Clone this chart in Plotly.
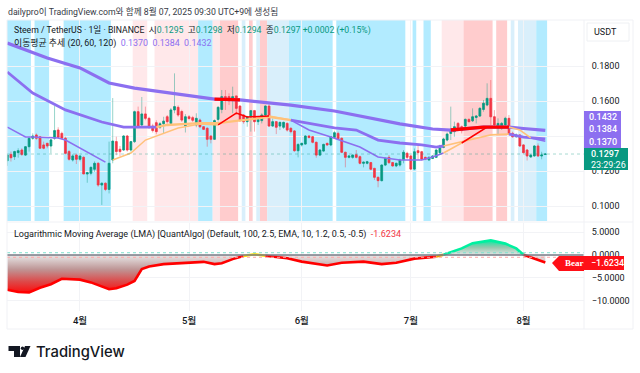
import pandas as pd
import plotly.graph_objects as go

# ---------- data ----------
START_DATE = "2025-03-12"
OPEN = [.1259,.1295,.1282,.1305,.1320,.1291,.1339,.1387,.1406,.1396,
 .1349,.1358,.1343,.1387,.1434,.1415,.1387,.1311,.1263,.1291,
 .1267,.1278,.1183,.1187,.1210,.1244,.1120,.1130,.1095,.1263,
 .1368,.1324,.1320,.1400,.1320,.1368,.1539,.1463,.1526,.1501,
 .1457,.1476,.1450,.1470,.1510,.1472,.1549,.1564,.1540,.1457,
 .1510,.1505,.1463,.1491,.1453,.1444,.1400,.1381,.1495,.1552,
 .1625,.1625,.1606,.1629,.1571,.1520,.1482,.1510,.1545,.1482,
 .1488,.1520,.1571,.1457,.1482,.1457,.1450,.1472,.1444,.1429,
 .1316,.1349,.1354,.1400,.1396,.1364,.1291,.1314,.1358,.1349,
 .1392,.1415,.1387,.1307,.1278,.1278,.1293,.1282,.1244,.1244,
 .1248,.1215,.1164,.1145,.1234,.1278,.1248,.1229,.1234,.1263,
 .1301,.1286,.1211,.1316,.1310,.1278,.1263,.1272,.1278,.1305,
 .1335,.1377,.1415,.1425,.1472,.1453,.1457,.1495,.1487,.1506,
 .1514,.1552,.1577,.1615,.1510,.1444,.1444,.1463,.1501,.1415,
 .1396,.1406,.1349,.1320,.1280,.1286,.1343,.1286,.1295]
HIGH = [.1301,.1311,.1316,.1330,.1330,.1343,.1396,.1415,.1415,.1400,
 .1368,.1362,.1381,.1571,.1450,.1425,.1396,.1320,.1296,.1300,
 .1290,.1285,.1195,.1225,.1255,.1250,.1135,.1135,.1368,.1617,
 .1396,.1343,.1405,.1406,.1372,.1545,.1568,.1623,.1568,.1510,
 .1470,.1490,.1480,.1510,.1520,.1560,.1758,.1575,.1550,.1525,
 .1520,.1515,.1530,.1500,.1457,.1450,.1402,.1495,.1570,.1663,
 .1663,.1644,.1682,.1629,.1575,.1525,.1515,.1549,.1549,.1500,
 .1530,.1575,.1590,.1500,.1485,.1482,.1482,.1478,.1450,.1434,
 .1358,.1362,.1404,.1405,.1400,.1368,.1325,.1356,.1362,.1400,
 .1430,.1425,.1392,.1310,.1290,.1295,.1320,.1288,.1254,.1258,
 .1252,.1218,.1168,.1238,.1278,.1291,.1252,.1248,.1270,.1320,
 .1310,.1290,.1329,.1348,.1315,.1282,.1285,.1290,.1325,.1350,
 .1390,.1420,.1568,.1482,.1480,.1460,.1500,.1500,.1558,.1520,
 .1565,.1606,.1701,.1720,.1548,.1501,.1480,.1510,.1520,.1425,
 .1415,.1410,.1353,.1325,.1296,.1348,.1358,.1310,.1298]
LOW = [.1229,.1254,.1263,.1276,.1286,.1286,.1311,.1378,.1378,.1330,
 .1324,.1330,.1301,.1378,.1385,.1380,.1295,.1259,.1254,.1240,
 .1255,.1183,.1133,.1175,.1195,.1110,.1006,.1085,.1072,.1244,
 .1290,.1285,.1315,.1311,.1311,.1360,.1445,.1450,.1490,.1440,
 .1420,.1410,.1440,.1415,.1470,.1460,.1530,.1510,.1480,.1420,
 .1490,.1480,.1450,.1445,.1434,.1339,.1358,.1378,.1482,.1530,
 .1549,.1577,.1530,.1520,.1480,.1470,.1453,.1425,.1425,.1463,
 .1472,.1510,.1453,.1453,.1411,.1434,.1440,.1425,.1415,.1310,
 .1278,.1340,.1350,.1385,.1358,.1276,.1285,.1310,.1344,.1342,
 .1385,.1380,.1302,.1221,.1272,.1270,.1272,.1238,.1221,.1238,
 .1205,.1149,.1107,.1140,.1228,.1240,.1225,.1222,.1225,.1244,
 .1266,.1205,.1205,.1263,.1260,.1262,.1258,.1268,.1274,.1300,
 .1330,.1370,.1377,.1396,.1428,.1415,.1450,.1478,.1480,.1472,
 .1510,.1539,.1570,.1463,.1458,.1406,.1435,.1455,.1405,.1390,
 .1390,.1338,.1300,.1260,.1276,.1282,.1280,.1267,.1294]
CLOSE = [.1291,.1276,.1311,.1316,.1295,.1339,.1387,.1400,.1387,.1330,
 .1330,.1343,.1378,.1431,.1392,.1387,.1301,.1267,.1286,.1267,
 .1286,.1183,.1190,.1221,.1244,.1120,.1130,.1095,.1244,.1371,
 .1311,.1311,.1400,.1320,.1368,.1539,.1457,.1526,.1501,.1453,
 .1431,.1425,.1470,.1485,.1482,.1549,.1568,.1520,.1491,.1510,
 .1500,.1490,.1501,.1453,.1438,.1381,.1381,.1488,.1564,.1625,
 .1606,.1602,.1625,.1558,.1488,.1482,.1510,.1545,.1482,.1495,
 .1520,.1571,.1457,.1482,.1450,.1478,.1478,.1434,.1425,.1316,
 .1352,.1358,.1400,.1392,.1364,.1291,.1320,.1352,.1349,.1396,
 .1419,.1384,.1307,.1278,.1286,.1291,.1278,.1244,.1250,.1253,
 .1210,.1164,.1145,.1234,.1272,.1248,.1229,.1244,.1263,.1307,
 .1278,.1211,.1310,.1305,.1267,.1267,.1278,.1286,.1320,.1343,
 .1383,.1411,.1438,.1453,.1434,.1431,.1495,.1482,.1510,.1514,
 .1558,.1587,.1615,.1510,.1463,.1472,.1472,.1501,.1411,.1396,
 .1406,.1343,.1305,.1286,.1291,.1343,.1286,.1291,.1297]

MA120_IDX = [0,11,20,28,35,57,64,78,90,102,108,117,122,131,138,142,148]
MA120_VAL = [.1931,.1846,.1789,.1703,.1674,.1611,.1606,.1577,.1543,.1491,.1469,.1440,.1434,.1451,.1451,.1443,.1432]
MA60_IDX = [0,7,16,26,32,41,44,53,58,63,72,78,83,90,96,102,108,114,118,120,127,133,138,142,148]
MA60_VAL = [.1766,.1646,.1549,.1480,.1451,.1451,.1463,.1474,.1474,.1486,.1509,.1491,.1474,.1446,.1434,.1377,.1360,.1349,.1337,.1343,.1377,.1406,.1411,.1394,.1384]
MA20_IDX = [0,5,7,14,16,22,27,29,34,38,47,53,57,58,63,66,72,78,83,89,97,102,108,114,117,120,125,132,138,141,144,148]
MA20_VAL = [.1451,.1394,.1394,.1389,.1377,.1309,.1251,.1263,.1303,.1377,.1446,.1469,.1463,.1463,.1531,.1509,.1514,.1491,.1434,.1394,.1337,.1280,.1263,.1263,.1280,.1303,.1360,.1451,.1451,.1434,.1389,.1370]

LMA_IDX = [0,3,6,9,12,15,20,23,28,30,33,35,37,39,43,48,54,57,59,62,65,68,71,77,81,86,88,92,98,103,107,112,118,120,125,128,133,137,140,142,145,148]
LMA_VAL = [-7.6,-8.1,-8.2,-7.2,-6.4,-5.2,-5.4,-6.0,-7.5,-7.3,-6.5,-5.7,-3.1,-2.5,-2.0,-1.7,-1.5,-2.0,-1.8,-0.9,-0.2,0.15,-0.15,-0.7,-1.45,-2.0,-2.3,-1.7,-1.45,-2.0,-1.7,-0.8,-0.35,0.07,1.45,2.6,3.2,2.5,1.45,0.07,-0.75,-1.6234]

# band state runs: (state, number of days)
BAND_RUNS = [("B",7),("W",1),("B",4),("W",4),("B",13),("W",6),("P",4),("W",2),("P",12),("B",4),
 ("P",2),("R",5),("W",1),("L",1),("W",1),("R",1),("W",1),("L",1),("R",2),("L",6),("B",12),("W",1),
 ("B",19),("W",2),("B",1),("W",2),("B",2),("W",3),("P",6),("R",8),("W",1),("R",3),("W",1),("L",1),
 ("W",1),("L",5),("B",3)]
BAND_COLORS = {"B":"#b2ebff","P":"#ffe8ea","R":"#ffcccd","L":"#d9effb"}

PRICE_TICKS = [0.10,0.12,0.14,0.16,0.18]
PRICE_LABELS = ["0.1000","0.1200","","0.1600","0.1800"]
LMA_TICKS = [-10,-5,0,5]
MONTH_TICKS = ["2025-04-01","2025-05-01","2025-06-01","2025-07-01","2025-08-01"]
MONTH_LABELS = ["4월","5월","6월","7월","8월"]

PURPLE="#8c6ff0"; ORANGE="#ffc27a"; RED="#ff0000"; TEAL="#089981"; CRED="#f23645"
FONT='Roboto, "Noto Sans CJK KR", sans-serif'
TXT="#131722"

W,H=640,373
ML,MR,MT,MB=7,56,20,62
PW,PH=W-ML-MR,H-MT-MB
def fx(x): return (x-ML)/PW
def fy(y): return (H-MB-y)/PH

dates = pd.date_range(START_DATE, periods=len(OPEN), freq="D")
half = pd.Timedelta(hours=12)

fig = go.Figure()

# candles: wick layer + body layer
fig.add_trace(go.Candlestick(x=dates, open=OPEN, high=HIGH, low=LOW, close=CLOSE, yaxis="y",
    increasing=dict(line=dict(color="rgba(8,153,129,0.42)",width=1),fillcolor="rgba(0,0,0,0)"),
    decreasing=dict(line=dict(color="rgba(242,54,69,0.42)",width=1),fillcolor="rgba(0,0,0,0)"),
    whiskerwidth=0, showlegend=False, hoverinfo="skip"))
body_hi=[max(o,c) for o,c in zip(OPEN,CLOSE)]
body_lo=[min(o,c) for o,c in zip(OPEN,CLOSE)]
fig.add_trace(go.Candlestick(x=dates, open=OPEN, high=body_hi, low=body_lo, close=CLOSE, yaxis="y",
    increasing=dict(line=dict(color=TEAL,width=0.6),fillcolor=TEAL),
    decreasing=dict(line=dict(color=CRED,width=0.6),fillcolor=CRED),
    whiskerwidth=0, showlegend=False, hoverinfo="skip"))

def seg(idx,val,a,b,color,width,yaxis="y"):
    xs=[dates[i] for i in idx if a<=i<=b]
    ys=[v for i,v in zip(idx,val) if a<=i<=b]
    fig.add_trace(go.Scatter(x=xs,y=ys,mode="lines",yaxis=yaxis,line=dict(color=color,width=width),
                             showlegend=False,hoverinfo="skip"))

seg(MA120_IDX,MA120_VAL,0,148,PURPLE,3.2)
seg(MA120_IDX,MA120_VAL,57,64,RED,3.2)
seg(MA120_IDX,MA120_VAL,122,138,RED,3.4)
seg(MA60_IDX,MA60_VAL,0,41,PURPLE,2.8)
seg(MA60_IDX,MA60_VAL,41,78,ORANGE,2.3)
seg(MA60_IDX,MA60_VAL,78,120,PURPLE,2.8)
seg(MA60_IDX,MA60_VAL,120,138,ORANGE,1.7)
seg(MA60_IDX,MA60_VAL,138,148,PURPLE,2.8)
seg(MA20_IDX,MA20_VAL,0,27,PURPLE,1.6)
seg(MA20_IDX,MA20_VAL,29,58,ORANGE,1.5)
seg(MA20_IDX,MA20_VAL,58,72,RED,1.5)
seg(MA20_IDX,MA20_VAL,72,78,ORANGE,1.5)
seg(MA20_IDX,MA20_VAL,78,120,PURPLE,1.6)
seg(MA20_IDX,MA20_VAL,120,125,ORANGE,1.5)
seg(MA20_IDX,MA20_VAL,125,138,RED,1.5)
seg(MA20_IDX,MA20_VAL,138,144,ORANGE,1.5)
seg(MA20_IDX,MA20_VAL,144,148,PURPLE,1.6)

# lower pane
red_grad=dict(type="vertical",start=-8.2,stop=0,
              colorscale=[[0,"rgb(250,15,15)"],[0.3,"rgb(220,75,75)"],[0.62,"rgb(190,150,150)"],[1,"rgb(232,232,232)"]])
green_grad=dict(type="vertical",start=0,stop=3.3,
              colorscale=[[0,"rgb(228,228,228)"],[0.5,"rgb(150,200,175)"],[1,"rgb(0,235,160)"]])
def lma(a,b,color,grad):
    xs=[dates[i] for i in LMA_IDX if a<=i<=b]
    ys=[v for i,v in zip(LMA_IDX,LMA_VAL) if a<=i<=b]
    fig.add_trace(go.Scatter(x=xs,y=ys,mode="lines",yaxis="y2",line=dict(color=color,width=2.6),
        fill="tozeroy",fillgradient=grad,showlegend=False,hoverinfo="skip"))
lma(0,65,RED,red_grad)
lma(65,71,"#ffe000",red_grad)
lma(71,118,RED,red_grad)
lma(118,120,"#f0a000",red_grad)
lma(120,142,"#00f0a0",green_grad)
lma(142,148,RED,red_grad)

shapes=[]
# regime bands
pos=0
for state,n in BAND_RUNS:
    if state!="W":
        shapes.append(dict(type="rect",xref="x",yref="y domain",x0=dates[pos]-half,x1=dates[pos+n-1]+half,
                           y0=0,y1=1,fillcolor=BAND_COLORS[state],line_width=0,layer="below"))
    pos+=n
# last price line
shapes.append(dict(type="line",xref="paper",yref="y",x0=0,x1=1,y0=CLOSE[-1],y1=CLOSE[-1],
                   line=dict(color="rgba(8,153,129,0.35)",width=1,dash="dot"),layer="above"))
# indicator reference lines
shapes.append(dict(type="line",xref="paper",yref="y2",x0=0,x1=1,y0=0.5,y1=0.5,line=dict(color="#7fe0cf",width=1,dash="dot"),layer="above"))
shapes.append(dict(type="line",xref="paper",yref="y2",x0=0,x1=1,y0=-0.5,y1=-0.5,line=dict(color="#ffa8a8",width=1,dash="dot"),layer="above"))
shapes.append(dict(type="line",xref="paper",yref="y2",x0=0,x1=1,y0=0,y1=0,line=dict(color="#787b86",width=1.6),layer="above"))

def prect(x0,y0,x1,y1,fill,line=None,layer="above"):
    return dict(type="rect",xref="paper",yref="paper",x0=fx(x0),x1=fx(x1),y0=fy(y0),y1=fy(y1),
                fillcolor=fill,line=dict(color=line or fill,width=1 if line else 0),layer=layer)
def ppath(pts,fill):
    d="M "+" L ".join(f"{fx(x):.5f},{fy(y):.5f}" for x,y in pts)+" Z"
    return dict(type="path",xref="paper",yref="paper",path=d,fillcolor=fill,line_width=0,layer="above")

# frame
FR="#f0f1f5"
shapes.append(prect(7,20,633,329,"rgba(0,0,0,0)",FR))
shapes.append(dict(type="line",xref="paper",yref="paper",x0=fx(584),x1=fx(584),y0=fy(20),y1=fy(329),line=dict(color=FR,width=1),layer="above"))
shapes.append(dict(type="line",xref="paper",yref="paper",x0=fx(7),x1=fx(633),y0=fy(222),y1=fy(222),line=dict(color=FR,width=1),layer="above"))
# USDT button
shapes.append(prect(587,23,629,41,"#ffffff","#eef0f3"))
# price badges
shapes.append(prect(584,111,621,148,PURPLE))
shapes.append(prect(584,148,628,170,TEAL))
# Bear flag + value badge
shapes.append(ppath([(552,263),(559,256),(584,256),(584,271),(559,271)],"#ff0f17"))
shapes.append(prect(584,256,624,270,"#ff0f17"))
# logo
shapes.append(ppath([(8.5,346),(20,346),(20,357),(14,357),(14,351),(8.5,351)],TXT))
shapes.append(dict(type="circle",xref="paper",yref="paper",x0=fx(20.8),x1=fx(24.2),y0=fy(346.5),y1=fy(350),fillcolor=TXT,line_width=0,layer="above"))
shapes.append(ppath([(25,346),(30.5,346),(25.5,357),(20,357)],TXT))

def ann(x,y,text,size=9.5,color=TXT,anchor="left",family=FONT,weight=None):
    f=dict(family=family,size=size,color=color)
    if weight: f["weight"]=weight
    return dict(xref="paper",yref="paper",x=fx(x),y=fy(y),text=text,showarrow=False,xanchor=anchor,yanchor="middle",
                font=f,borderpad=0,align="left")
def sp(c,t): return f'<span style="color:{c}">{t}</span>'
G="#089981"
anns=[
 ann(7,11,"dailypro이 TradingView.com와 함께 8월 07, 2025 09:30 UTC+9에 생성됨",size=8.7,color="#363a45"),
 ann(13,31,"Steem / TetherUS · 1일 · BINANCE  "+"시"+sp(G,"0.1295")+"  고"+sp(G,"0.1298")+"  저"+sp(G,"0.1294")+"  종"+sp(G,"0.1297")+" "+sp(G,"+0.0002 (+0.15%)"),size=8.7),
 ann(13,43.5,"이동평균 추세 (20, 60, 120)  "+sp(PURPLE,"0.1370")+"  "+sp(PURPLE,"0.1384")+"  "+sp(PURPLE,"0.1432"),size=8.9),
 ann(13,234,"Logarithmic Moving Average (LMA) [QuantAlgo] (Default, 100, 2.5, EMA, 10, 1.2, 0.5, -0.5)  "+sp("#f23645","-1.6234"),size=9),
 ann(593,32,"USDT",size=9,color=TXT),
 ann(603,117,"0.1432",size=9,color="#ffffff",anchor="center",weight=500),
 ann(603,129,"0.1384",size=9,color="#ffffff",anchor="center",weight=500),
 ann(603,141.5,"0.1370",size=9,color="#ffffff",anchor="center",weight=500),
 ann(590,154,"0.1297",size=9,color="#ffffff",weight=500),
 ann(590,165,"23:29:26",size=9,color="#ffffff"),
 ann(564,263,"Bear",size=9,color="#ffffff",family='"Liberation Serif", serif',weight=700),
 ann(590,263,"−1.6234",size=9,color="#ffffff",weight=500),
 ann(35,351.5,"TradingView",size=14.8,color=TXT,family='Inter, Roboto, sans-serif',weight=500),
]

GRID="#f2f3f6"
fig.update_layout(
    width=W,height=H,margin=dict(l=ML,r=MR,t=MT,b=MB,pad=0),
    paper_bgcolor="#ffffff",plot_bgcolor="#ffffff",font=dict(family=FONT,color=TXT,size=10),showlegend=False,
    shapes=shapes,annotations=anns,
    xaxis=dict(type="date",domain=[0,1],anchor="y2",range=["2025-03-11 22:05","2025-08-17 15:36"],
               rangeslider=dict(visible=False),tickvals=MONTH_TICKS,ticktext=MONTH_LABELS,tickangle=0,
               showgrid=True,gridcolor=GRID,gridwidth=1,ticks="outside",ticklen=1,tickcolor="rgba(0,0,0,0)",
               tickfont=dict(size=9.5,color=TXT,weight=500),showline=False,zeroline=False),
    yaxis=dict(domain=[fy(221),1],anchor="x",side="right",range=[0.09143,0.2063],tickvals=PRICE_TICKS,ticktext=PRICE_LABELS,
               showgrid=True,gridcolor=GRID,ticks="outside",ticklen=5,tickcolor="rgba(0,0,0,0)",
               tickfont=dict(size=9,color=TXT),showline=False,zeroline=False),
    yaxis2=dict(domain=[0,fy(223)],anchor="x",side="right",range=[-12.28,7.02],tickvals=LMA_TICKS,tickformat=".4f",
               showgrid=True,gridcolor=GRID,ticks="outside",ticklen=5,tickcolor="rgba(0,0,0,0)",
               tickfont=dict(size=9,color=TXT),showline=False,zeroline=False),
)
fig.write_html("out.html", config={"displayModeBar":False}, post_script="document.body.style.margin='0';")
